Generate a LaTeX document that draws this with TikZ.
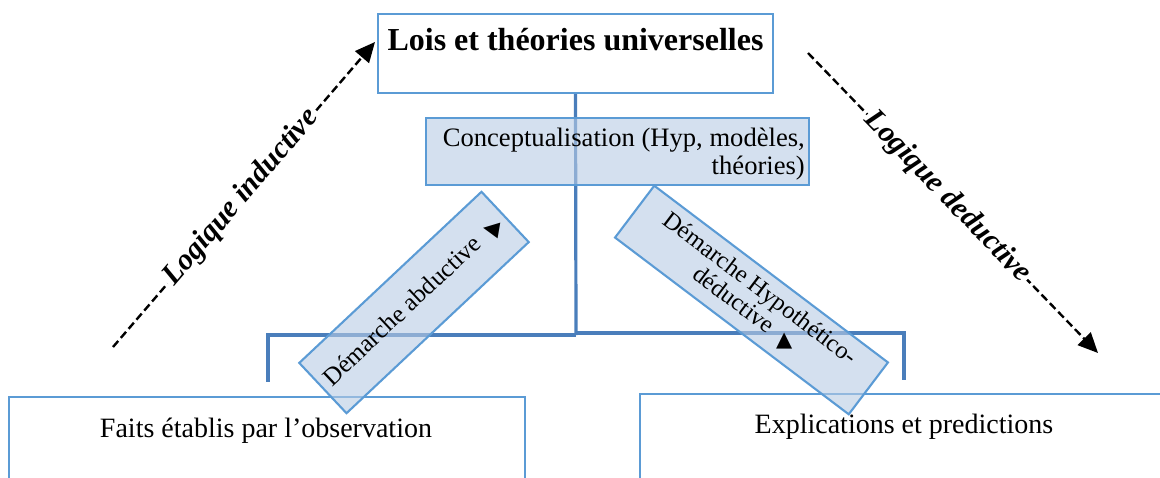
\documentclass[tikz,border=0pt]{standalone}
\usepackage{fontspec}
\usepackage{graphicx}
\setmainfont{Liberation Serif}
\newfontfamily\symfont{DejaVu Sans}
\usetikzlibrary{arrows.meta}
\definecolor{boxblue}{RGB}{91,155,213}
\definecolor{linkblue}{RGB}{74,126,187}
\definecolor{paleblue}{RGB}{184,204,228}
% small black triangle used inside the two "Démarche" labels
\newcommand\tipmark{\rotatebox[origin=c]{37}{\symfont\fontsize{21}{21}\selectfont ▲}}

\begin{document}
\begin{tikzpicture}[x=1pt,y=-1pt,
  box/.style={draw=boxblue,line width=2.1pt,inner sep=0pt,fill=white},
  shaded/.style={box,fill=paleblue,fill opacity=0.6,text opacity=1},
  link/.style={draw=linkblue,line width=3.2pt},
  logic/.style={draw=black,line width=2.4pt,dash pattern=on 8pt off 4pt,
    -{Triangle[length=20pt,width=18pt]}},
  logiclabel/.style={fill=white,sloped,inner xsep=2pt,inner ysep=0pt,
    font=\fontsize{30}{32}\selectfont\bfseries\itshape},
  txt/.style={inner sep=0pt,anchor=base,font=\fontsize{28}{30}\selectfont},
]
\path[use as bounding box,clip] (0,0) rectangle (1160,477);

% bottom boxes (running past the lower and right borders)
\node[box,minimum width=516pt,minimum height=106pt] (faits) at (267,450) {};
\node[box,minimum width=540pt,minimum height=106pt] (expl) at (910,447) {};
\node[txt] (faitsT) at (266,437) {Faits établis par l’observation};
\node[txt] (explT) at (904,433) {Explications et predictions};

% top box
\node[box,minimum width=395pt,minimum height=79pt] (lois) at (575.5,53.5) {};
\node[txt,font=\fontsize{32}{34}\selectfont\bfseries] (loisT) at (575.5,50)
  {Lois et théories universelles};

% connectors
\coordinate (hubL) at (576,335);
\coordinate (hubR) at (576,333);
\coordinate (legL) at (268,382);
\coordinate (legR) at (904,380);
\draw[link] (lois.south) -- (hubL);
\draw[link] (hubL) -| (legL);
\draw[link] (hubR) -| (legR);

% conceptualisation box
\node[shaded,minimum width=383pt,minimum height=67pt] (concept) at (617.5,151.5) {};
\node[txt,anchor=base east,font=\fontsize{26.6}{28}\selectfont] (conceptA) at (805,146.7)
  {Conceptualisation (Hyp, modèles,};
\node[txt,anchor=base east,font=\fontsize{26.6}{28}\selectfont] (conceptB) at (805,174)
  {théories)};

% tilted approach boxes
\node[shaded,rotate=43.2,minimum width=250pt,minimum height=69pt,
  font=\fontsize{25}{26}\selectfont] (abduc) at (414,302.5)
  {Démarche abductive \tipmark};
\node[shaded,rotate=-37.1,minimum width=293pt,minimum height=65pt,align=center,
  font=\fontsize{24.5}{25}\selectfont] (hypo) at (751.5,300)
  {Démarche Hypothético-\\déductive \tipmark};

% inductive / deductive logic arrows
\coordinate (indS) at (113,347);
\coordinate (indE) at (375,42);
\coordinate (dedS) at (808,53);
\coordinate (dedE) at (1098,353);
\draw[logic] (indS) -- node[logiclabel,pos=0.49] (indL) {Logique inductive} (indE);
\draw[logic] (dedS) -- node[logiclabel,pos=0.48] (dedL) {Logique deductive} (dedE);
\end{tikzpicture}
\end{document}
